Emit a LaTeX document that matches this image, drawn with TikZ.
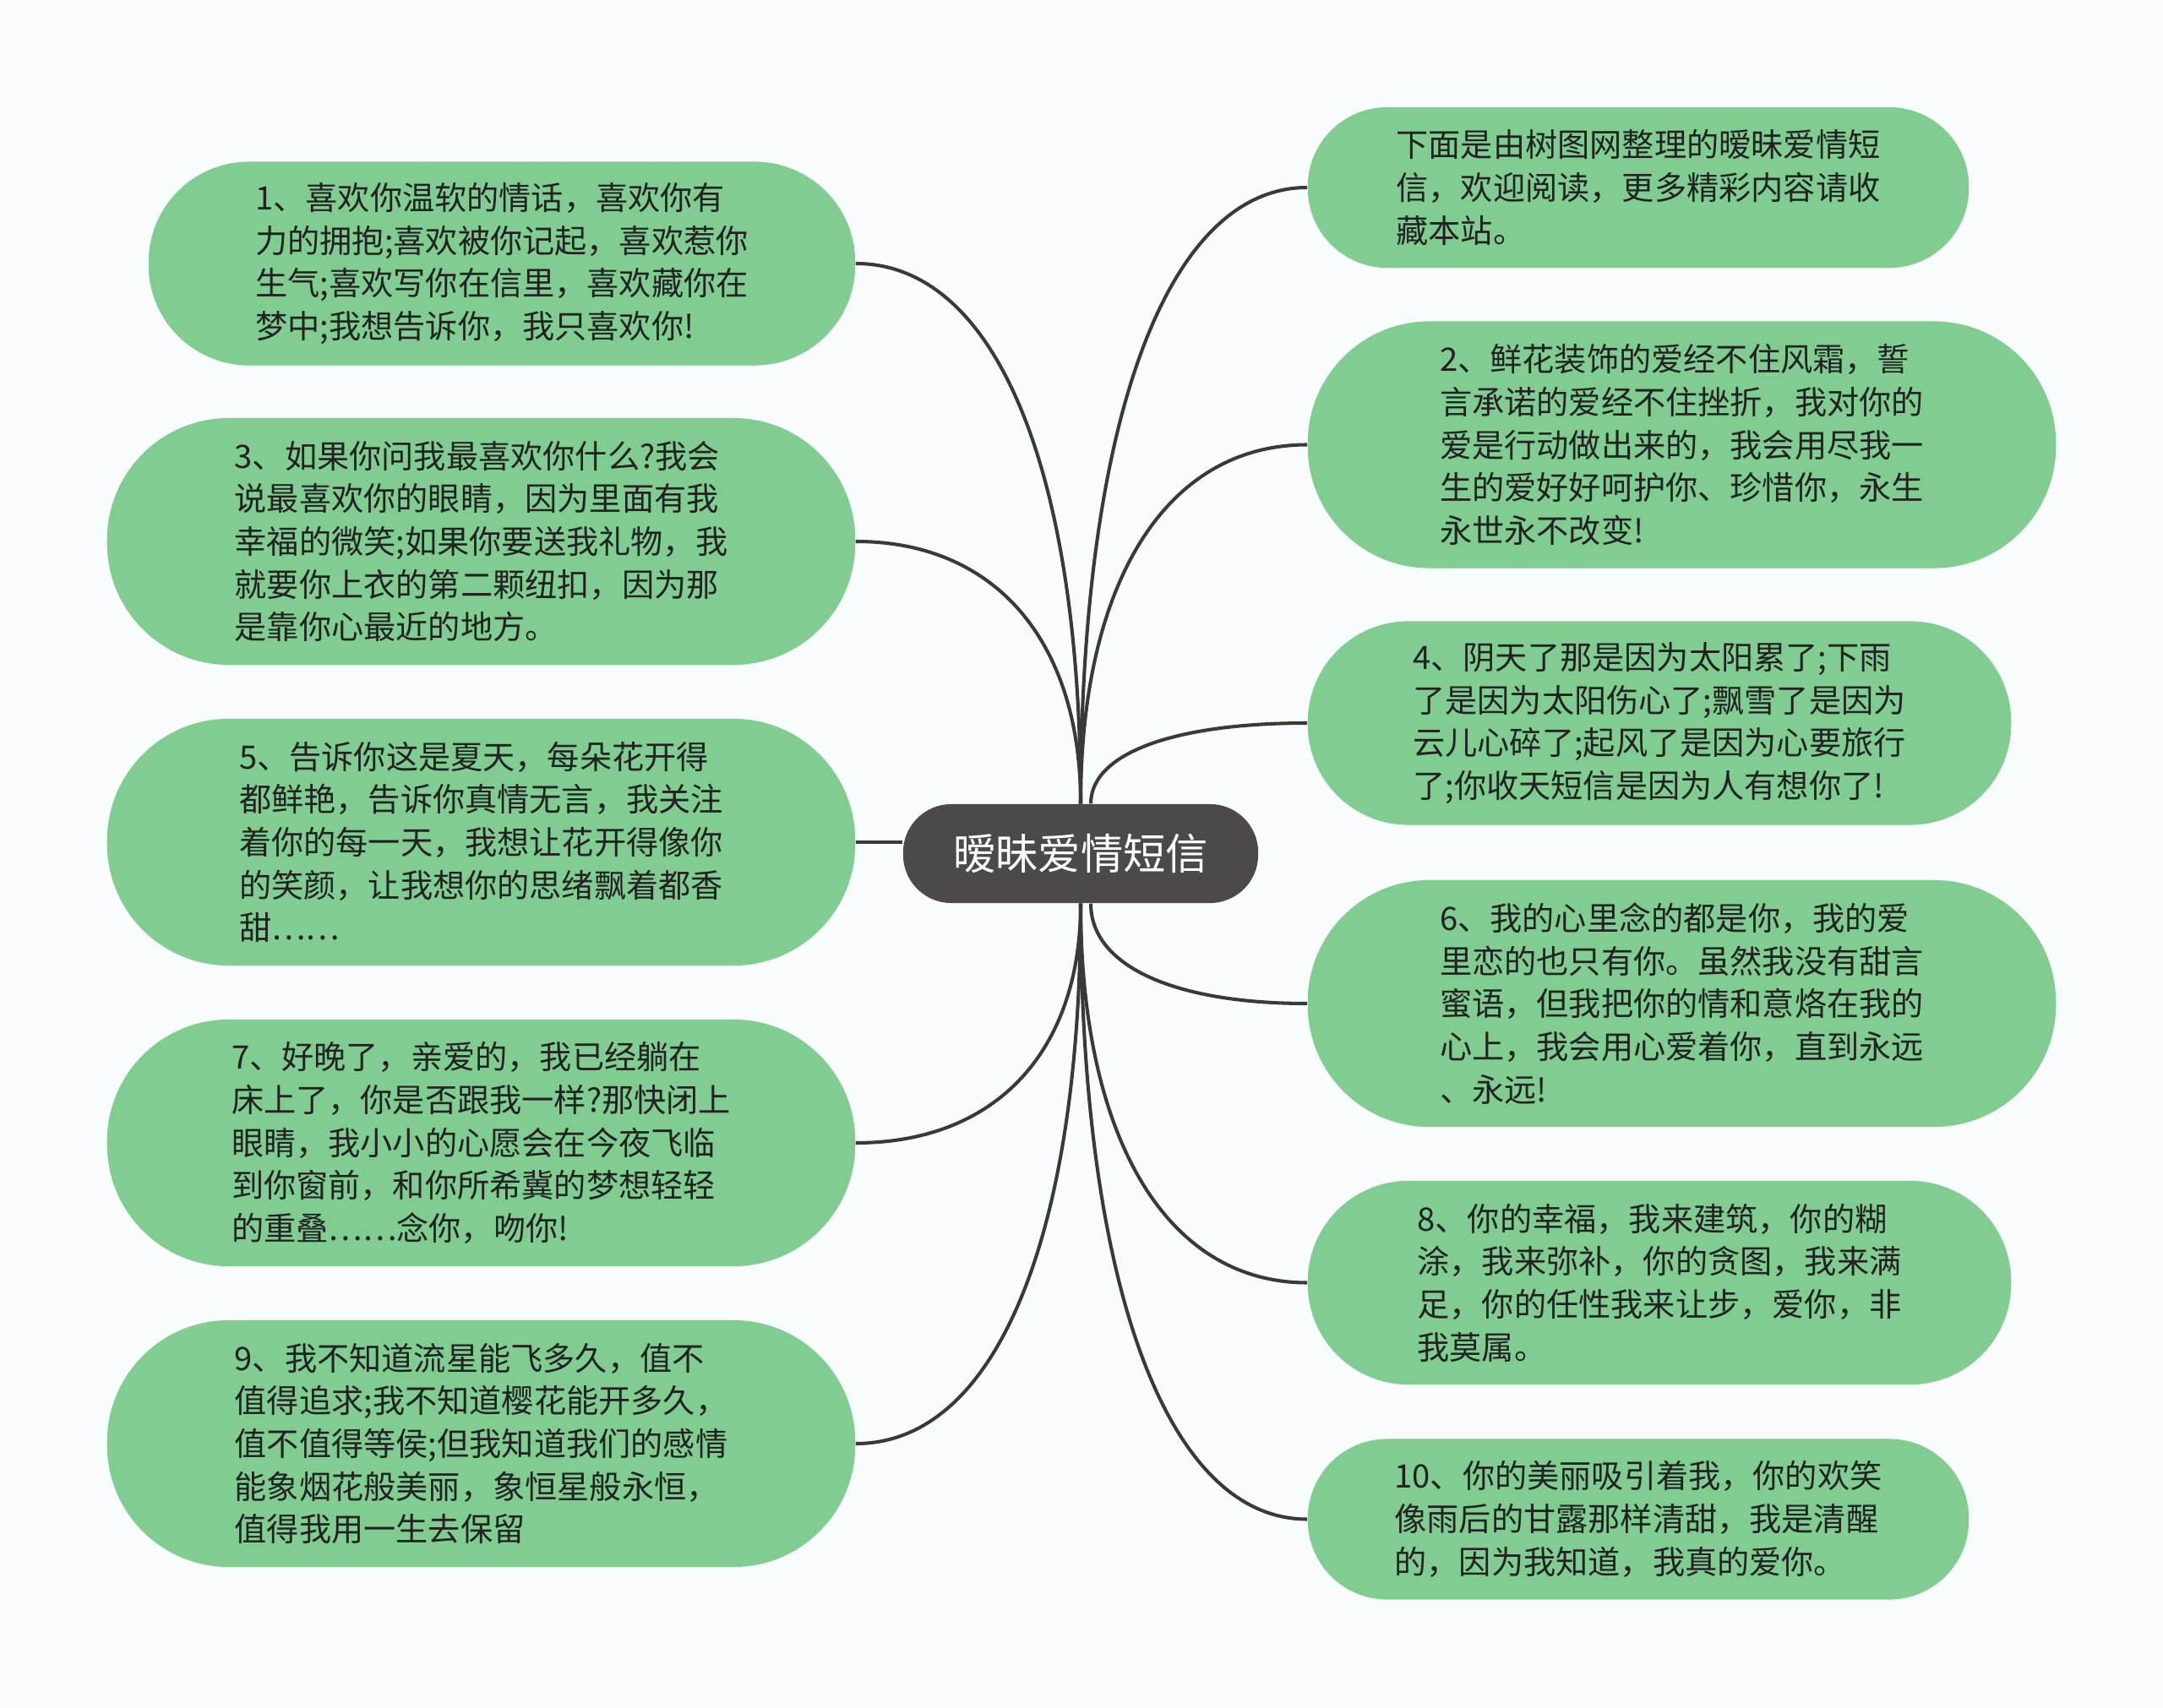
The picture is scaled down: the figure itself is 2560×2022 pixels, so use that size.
\documentclass[tikz,border=0pt]{standalone}
\usepackage{fontspec}
\setmainfont{Noto Sans CJK SC}
\usetikzlibrary{calc}
\definecolor{bgcol}{HTML}{F8FCFC}
\definecolor{leafgreen}{HTML}{80CC91}
\definecolor{rootgray}{HTML}{4D4949}
\definecolor{linkgray}{HTML}{3C3838}
\definecolor{leaftext}{HTML}{222222}
\newcommand\curvelink[2]{\draw[link] (#1) .. controls ($(#1)!0.62!(#1 |- #2)$) and ($(#2)!0.62!(#1 |- #2)$) .. (#2);}
\begin{document}
\begin{tikzpicture}[x=0.01cm, y=-0.01cm,
  leaf/.style={rectangle, fill=leafgreen, text=leaftext, align=left, inner sep=0pt,
    font=\fontsize{10.86pt}{14.4pt}\selectfont},
  leaffive/.style={leaf, minimum height=2.92cm, rounded corners=1.44cm},
  leaffour/.style={leaf, minimum height=2.41cm, rounded corners=1.19cm},
  leafthree/.style={leaf, minimum height=1.90cm, rounded corners=0.94cm},
  root/.style={rectangle, fill=rootgray, text=white, inner sep=0pt,
    font=\fontsize{14.3pt}{17pt}\selectfont, rounded corners=0.57cm,
    minimum width=4.2cm, minimum height=1.17cm},
  link/.style={draw=linkgray, line width=1.15pt}]
\fill[bgcol] (0,0) rectangle (2560,2022);
\useasboundingbox (0,0) rectangle (2560,2022);

\node[root] (root) at (1279,1010.5) {暧昧爱情短信};

% left side
\node[leaffour, minimum width=8.36cm] (n1) at (594,312) {1、喜欢你温软的情话，喜欢你有\\力的拥抱;喜欢被你记起，喜欢惹你\\生气;喜欢写你在信里，喜欢藏你在\\梦中;我想告诉你，我只喜欢你!};
\node[leaffive, minimum width=8.85cm] (n3) at (569.5,641) {3、如果你问我最喜欢你什么?我会\\说最喜欢你的眼睛，因为里面有我\\幸福的微笑;如果你要送我礼物，我\\就要你上衣的第二颗纽扣，因为那\\是靠你心最近的地方。};
\node[leaffive, minimum width=8.85cm] (n5) at (569.5,997) {5、告诉你这是夏天，每朵花开得\\都鲜艳，告诉你真情无言，我关注\\着你的每一天，我想让花开得像你\\的笑颜，让我想你的思绪飘着都香\\甜……};
\node[leaffive, minimum width=8.85cm] (n7) at (569.5,1353) {7、好晚了，亲爱的，我已经躺在\\床上了，你是否跟我一样?那快闭上\\眼睛，我小小的心愿会在今夜飞临\\到你窗前，和你所希冀的梦想轻轻\\的重叠……念你，吻你!};
\node[leaffive, minimum width=8.85cm] (n9) at (569.5,1709) {9、我不知道流星能飞多久，值不\\值得追求;我不知道樱花能开多久，\\值不值得等侯;但我知道我们的感情\\能象烟花般美丽，象恒星般永恒，\\值得我用一生去保留};

% right side
\node[leafthree, minimum width=7.82cm] (n0) at (1939,222) {下面是由树图网整理的暧昧爱情短\\信，欢迎阅读，更多精彩内容请收\\藏本站。};
\node[leaffive, minimum width=8.85cm] (n2) at (1990.5,526.5) {2、鲜花装饰的爱经不住风霜，誓\\言承诺的爱经不住挫折，我对你的\\爱是行动做出来的，我会用尽我一\\生的爱好好呵护你、珍惜你，永生\\永世永不改变!};
\node[leaffour, minimum width=8.32cm] (n4) at (1964,856) {4、阴天了那是因为太阳累了;下雨\\了是因为太阳伤心了;飘雪了是因为\\云儿心碎了;起风了是因为心要旅行\\了;你收天短信是因为人有想你了!};
\node[leaffive, minimum width=8.85cm] (n6) at (1990.5,1188) {6、我的心里念的都是你，我的爱\\里恋的也只有你。虽然我没有甜言\\蜜语，但我把你的情和意烙在我的\\心上，我会用心爱着你，直到永远\\、永远!};
\node[leaffour, minimum width=8.32cm] (n8) at (1964,1518.5) {8、你的幸福，我来建筑，你的糊\\涂，我来弥补，你的贪图，我来满\\足，你的任性我来让步，爱你，非\\我莫属。};
\node[leafthree, minimum width=7.82cm] (n10) at (1939,1798.5) {10、你的美丽吸引着我，你的欢笑\\像雨后的甘露那样清甜，我是清醒\\的，因为我知道，我真的爱你。};

% start points on the root
\coordinate (rt) at (root.north);
\coordinate (rb) at (root.south);
\coordinate (rtr) at ($(root.north)+(12,0)$);
\coordinate (rbr) at ($(root.south)+(12,0)$);

\curvelink{rt}{n1.east}
\curvelink{rt}{n3.east}
\draw[link] (n5.east) -- (n5.east -| root.west);
\curvelink{rb}{n7.east}
\curvelink{rb}{n9.east}

\curvelink{rt}{n0.west}
\curvelink{rt}{n2.west}
\curvelink{rtr}{n4.west}
\curvelink{rbr}{n6.west}
\curvelink{rb}{n8.west}
\curvelink{rb}{n10.west}
\end{tikzpicture}
\end{document}
